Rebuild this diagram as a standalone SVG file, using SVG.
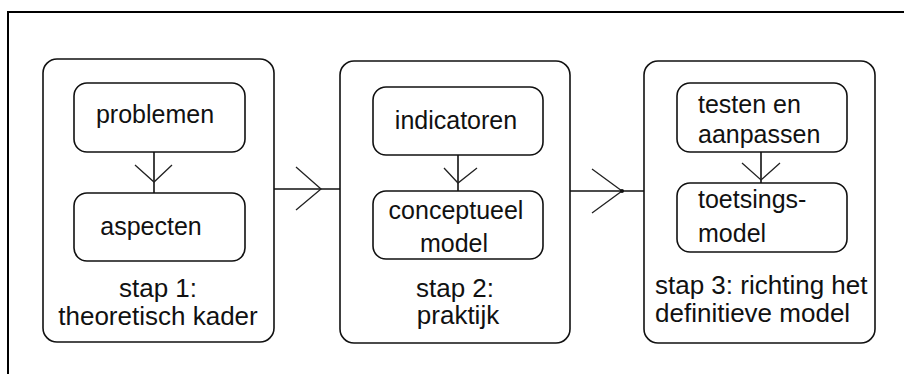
<svg xmlns="http://www.w3.org/2000/svg" width="904" height="374" viewBox="0 0 904 374">
  <style>
    .frame { fill: none; stroke: #000; stroke-width: 2; }
    .box { fill: #fff; stroke: #111; stroke-width: 1.6; }
    .line { fill: none; stroke: #111; stroke-width: 1.6; }
    .head { fill: none; stroke: #222; stroke-width: 1.3; }
    text { font-family: "Liberation Sans", Arial, sans-serif; fill: #111; }
    .lbl { font-size: 25px; }
    .step { font-size: 26px; }
    .c { text-anchor: middle; }
  </style>
  <rect width="904" height="374" fill="#fff"/>
  <!-- page frame (top and left edges) -->
  <path class="frame" d="M8 374 V12 H904"/>

  <!-- step 1 -->
  <g id="stap1">
    <rect class="box" x="43" y="59" width="231" height="283" rx="14"/>
    <text class="step c" x="158" y="297">stap 1:</text>
    <text class="step c" x="158" y="325">theoretisch kader</text>
  </g>
  <g id="problemen">
    <rect class="box" x="74" y="83" width="171" height="69" rx="13"/>
    <text class="lbl c" x="155" y="123">problemen</text>
  </g>
  <g id="aspecten">
    <rect class="box" x="74" y="193" width="171" height="68" rx="13"/>
    <text class="lbl c" x="151" y="235">aspecten</text>
  </g>

  <!-- step 2 -->
  <g id="stap2">
    <rect class="box" x="340" y="61" width="230" height="282" rx="14"/>
    <text class="step c" x="455" y="297">stap 2:</text>
    <text class="step c" x="458" y="324">praktijk</text>
  </g>
  <g id="indicatoren">
    <rect class="box" x="373" y="87" width="170" height="68" rx="13"/>
    <text class="lbl c" x="456" y="129">indicatoren</text>
  </g>
  <g id="conceptueel-model">
    <rect class="box" x="373" y="191" width="170" height="68" rx="13"/>
    <text class="lbl c" x="456" y="219">conceptueel</text>
    <text class="lbl c" x="454" y="252">model</text>
  </g>

  <!-- step 3 -->
  <g id="stap3">
    <rect class="box" x="644" y="61" width="231" height="282" rx="14"/>
    <text class="step" x="655" y="294">stap 3: richting het</text>
    <text class="step" x="655" y="322">definitieve model</text>
  </g>
  <g id="testen-en-aanpassen">
    <rect class="box" x="677" y="83" width="170" height="69" rx="13"/>
    <text class="lbl" x="698" y="113">testen en</text>
    <text class="lbl" x="698" y="143">aanpassen</text>
  </g>
  <g id="toetsingsmodel">
    <rect class="box" x="677" y="183" width="170" height="69" rx="13"/>
    <text class="lbl" x="698" y="208">toetsings-</text>
    <text class="lbl" x="698" y="242">model</text>
  </g>

  <!-- connectors -->
  <g id="connectors">
    <!-- problemen to aspecten -->
    <line class="line" x1="154" y1="152" x2="154" y2="193"/>
    <path class="head" d="M135 165 L154 182 L172 165"/>
    <!-- indicatoren to conceptueel model -->
    <line class="line" x1="458" y1="155" x2="458" y2="191"/>
    <path class="head" d="M444 168 L458 183 L477 168"/>
    <!-- testen en aanpassen to toetsingsmodel -->
    <line class="line" x1="761" y1="152" x2="761" y2="183"/>
    <path class="head" d="M742 163 L761 180 L780 163"/>
    <!-- stap 1 to stap 2 -->
    <line class="line" x1="274" y1="189" x2="340" y2="189"/>
    <path class="head" d="M296 167 L321 189 L296 210"/>
    <!-- stap 2 to stap 3 -->
    <line class="line" x1="570" y1="191" x2="644" y2="191"/>
    <path class="head" d="M592 169 L622 191 L592 213"/>
    <circle cx="622" cy="191" r="2" fill="#111"/>
  </g>
</svg>
